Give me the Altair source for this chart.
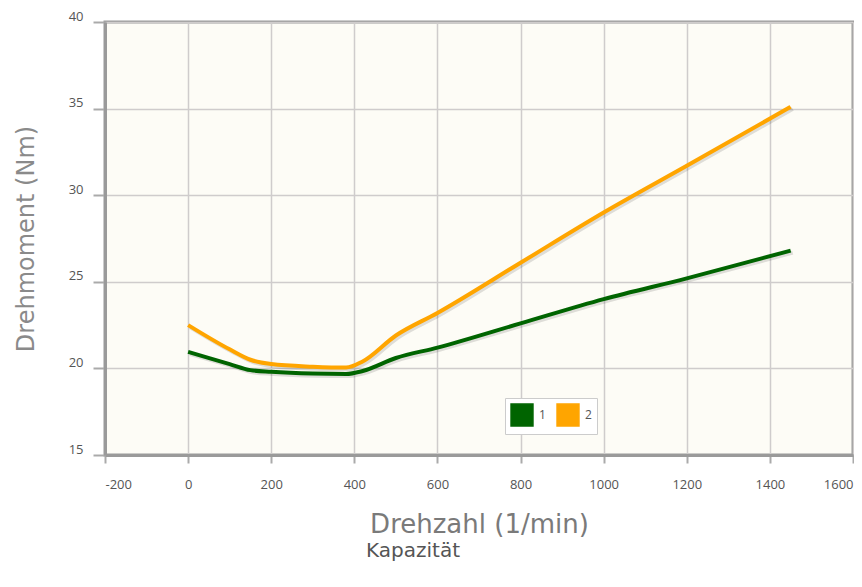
import altair as alt
import pandas as pd

# Series data
rpm = [0, 100, 150, 200, 300, 380, 420, 500, 600, 800, 1000, 1200, 1450]
torque_1 = [20.95, 20.25, 19.9, 19.8, 19.7, 19.68, 19.85, 20.6, 21.2, 22.6, 24.0, 25.2, 26.8]
torque_2 = [22.5, 21.1, 20.5, 20.25, 20.1, 20.05, 20.4, 21.9, 23.2, 26.1, 29.0, 31.7, 35.1]
series_names = ["1", "2"]
series_colors = ["#006400", "#FFA500"]

x_ticks = [-200, 0, 200, 400, 600, 800, 1000, 1200, 1400, 1600]
y_ticks = [15, 20, 25, 30, 35, 40]

rows = []
for name, vals in zip(series_names, [torque_1, torque_2]):
    for r, t in zip(rpm, vals):
        rows.append({"rpm": r, "torque": t, "serie": name})
df = pd.DataFrame(rows)

xs = alt.Scale(domain=[-200, 1600], nice=False, zero=False)
ys = alt.Scale(domain=[15, 40], nice=False, zero=False)

x_enc = alt.X("rpm:Q", scale=xs,
              axis=alt.Axis(values=x_ticks, title="Drehzahl (1/min)", grid=True,
                            labelExpr="'' + datum.value",
                            labelPadding=15, titlePadding=20, tickSize=8))
y_enc = alt.Y("torque:Q", scale=ys,
              axis=alt.Axis(values=y_ticks, title="Drehmoment (Nm)", grid=True,
                            labelExpr="'' + datum.value",
                            labelPadding=10, titlePadding=30, tickSize=12,
                            labelBaseline="bottom", labelOffset=1))

color_scale = alt.Scale(domain=series_names, range=series_colors)
legend = alt.Legend(title=None, orient="none", legendX=400, legendY=376,
                    direction="horizontal", symbolType="square",
                    symbolSize=480, symbolOpacity=1,
                    labelFontSize=12, labelFont="Open Sans",
                    labelColor="#555555", columnPadding=8,
                    padding=5, strokeColor="#cccccc",
                    fillColor="#ffffff", labelOffset=5)

shadow = alt.Chart(df).transform_calculate(
    rpm_s="datum.rpm + 5", torque_s="datum.torque - 0.12"
).mark_line(strokeWidth=4, color="#000000", opacity=0.12, interpolate="monotone").encode(
    x=alt.X("rpm_s:Q", scale=xs),
    y=alt.Y("torque_s:Q", scale=ys),
    detail="serie:N",
)

lines = alt.Chart(df).mark_line(strokeWidth=4, interpolate="monotone").encode(
    x=x_enc,
    y=y_enc,
    color=alt.Color("serie:N", scale=color_scale, legend=legend),
)

# Empty point layer so the merged legend shows filled squares
legend_layer = alt.Chart(df).transform_filter("datum.rpm < -1000").mark_point(
    filled=True, shape="square", opacity=1
).encode(
    x=alt.X("rpm:Q", scale=xs),
    y=alt.Y("torque:Q", scale=ys),
    color=alt.Color("serie:N", scale=color_scale, legend=legend),
)

chart = alt.layer(shadow, lines, legend_layer).properties(
    width=748, height=433,
    autosize=alt.AutoSizeParams(type="none"),
    padding={"left": 97, "top": 14, "right": 1, "bottom": 120},
    title=alt.TitleParams("Kapazität", orient="bottom", anchor="middle", dx=-66,
                          offset=4, fontSize=20, font="DejaVu Sans",
                          fontWeight="normal", color="#555555"),
).configure_view(
    fill="#FDFCF6", stroke="#9a9a9a", strokeWidth=3
).configure_axis(
    domainColor="#9a9a9a", domainWidth=3, tickColor="#aaaaaa", tickWidth=2,
    gridColor="#cfcccc", gridWidth=1.5, labelColor="#555555", labelFontSize=13,
    labelFont="Open Sans", titleFont="DejaVu Sans", titleFontWeight="normal",
    titleColor="#8a8a8a", titleFontSize=24
).configure_axisX(titleFontSize=26, titleColor="#7a7a7a")

chart.save("out.html", embed_options={"renderer": "svg", "actions": False})
